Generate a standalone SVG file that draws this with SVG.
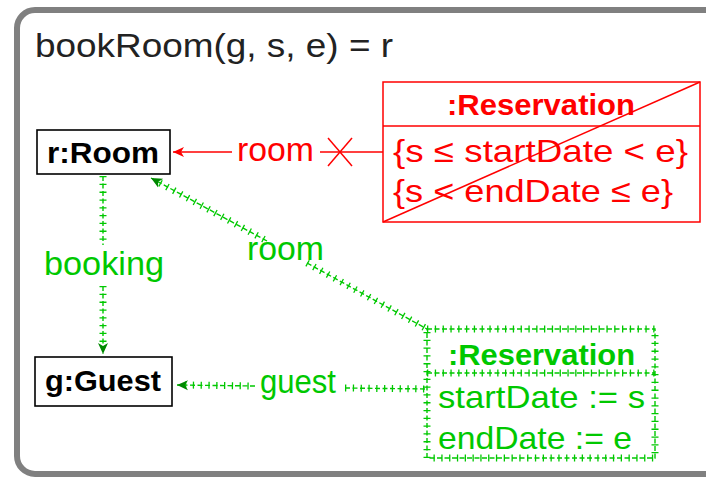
<svg xmlns="http://www.w3.org/2000/svg" width="706" height="479" viewBox="0 0 706 479">
<style>
  text { font-family: "Liberation Sans", Arial, sans-serif; }
  .title { font-size: 34px; fill: #222; }
  .node { font-size: 30px; font-weight: bold; fill: #000; }
  .box { fill: #fff; stroke: #000; stroke-width: 1.6; }
  .red { fill: #ff0000; }
  .green { fill: #00c800; }
  .lbl { font-size: 34px; }
  .hdr { font-size: 29px; font-weight: bold; }
  .attr { font-size: 32px; }
  .rline { stroke: #ff0000; stroke-width: 1.5; fill: none; }
  .gline { stroke: #00c800; stroke-width: 1.4; fill: none; stroke-dasharray: 5 2.5; }
  .gtick { stroke: #00c800; stroke-width: 7; fill: none; stroke-dasharray: 1.3 6.5; }
</style>
<defs>
  <marker id="ar" markerUnits="userSpaceOnUse" markerWidth="14" markerHeight="12" refX="11" refY="6" orient="auto">
    <path d="M0,1 L11,6 L0,11 L3,6 z" fill="#ff0000"/>
  </marker>
  <marker id="ag" markerUnits="userSpaceOnUse" markerWidth="14" markerHeight="12" refX="11" refY="6" orient="auto">
    <path d="M0,1 L11,6 L0,11 L3,6 z" fill="#008800"/>
  </marker>
</defs>

<rect x="17" y="10" width="720" height="464" rx="18" fill="#fff" stroke="#808080" stroke-width="6"/>
<text class="title" x="35" y="57" textLength="358" lengthAdjust="spacingAndGlyphs">bookRoom(g, s, e) = r</text>

<g id="connectors">
  <!-- red room -->
  <line class="rline" x1="232" y1="152" x2="173" y2="152" marker-end="url(#ar)"/>
  <line class="rline" x1="320" y1="152" x2="383" y2="152"/>
  <line class="rline" x1="328" y1="138" x2="352" y2="166"/>
  <line class="rline" x1="328" y1="166" x2="352" y2="138"/>
  <text class="red lbl" x="237" y="161" textLength="77" lengthAdjust="spacingAndGlyphs">room</text>

  <!-- booking -->
  <g>
    <line class="gtick" x1="103" y1="176" x2="103" y2="245"/>
    <line class="gline" x1="103" y1="176" x2="103" y2="245"/>
    <line class="gtick" x1="103" y1="286" x2="103" y2="346"/>
    <line class="gline" x1="103" y1="286" x2="103" y2="354" marker-end="url(#ag)"/>
    <text class="green lbl" x="44" y="275" textLength="120" lengthAdjust="spacingAndGlyphs">booking</text>
  </g>

  <!-- green room -->
  <g>
    <line class="gtick" x1="160" y1="183" x2="267" y2="241"/>
    <line class="gline" x1="267" y1="241" x2="151" y2="178" marker-end="url(#ag)"/>
    <line class="gtick" x1="307" y1="263" x2="427" y2="329"/>
    <line class="gline" x1="307" y1="263" x2="427" y2="329"/>
    <text class="green lbl" x="247" y="260" textLength="77" lengthAdjust="spacingAndGlyphs">room</text>
  </g>

  <!-- guest -->
  <g>
    <line class="gtick" x1="185" y1="385" x2="255" y2="386"/>
    <line class="gline" x1="255" y1="386" x2="177" y2="385" marker-end="url(#ag)"/>
    <line class="gtick" x1="345" y1="388" x2="427" y2="389"/>
    <line class="gline" x1="345" y1="388" x2="427" y2="389"/>
    <text class="green lbl" x="260" y="393" textLength="76" lengthAdjust="spacingAndGlyphs">guest</text>
  </g>
</g>

<g id="room">
  <rect class="box" x="37" y="130" width="133" height="44"/>
  <text class="node" x="47" y="163" textLength="112" lengthAdjust="spacingAndGlyphs">r:Room</text>
</g>

<g id="guest">
  <rect class="box" x="35" y="357" width="137" height="49"/>
  <text class="node" x="45" y="391" textLength="116" lengthAdjust="spacingAndGlyphs">g:Guest</text>
</g>

<g id="reservation-deleted">
  <rect x="383" y="82" width="317" height="140" fill="#fff" stroke="#ff0000" stroke-width="1.5"/>
  <line class="rline" x1="383" y1="126" x2="700" y2="126"/>
  <text class="red hdr" x="447" y="115" textLength="188" lengthAdjust="spacingAndGlyphs">:Reservation</text>
  <text class="red attr" x="393" y="162" textLength="295" lengthAdjust="spacingAndGlyphs">{s ≤ startDate &lt; e}</text>
  <text class="red attr" x="393" y="202" textLength="280" lengthAdjust="spacingAndGlyphs">{s &lt; endDate ≤ e}</text>
  <line class="rline" x1="383" y1="222" x2="700" y2="82"/>
</g>

<g id="reservation-created">
  <rect x="427" y="329" width="228" height="129" fill="#fff" stroke="none"/>
  <rect class="gtick" x="427" y="329" width="228" height="129"/>
  <rect class="gline" x="427" y="329" width="228" height="129"/>
  <line class="gtick" x1="427" y1="373" x2="655" y2="373"/>
  <line class="gline" x1="427" y1="373" x2="655" y2="373"/>
  <text class="green hdr" x="448" y="365" textLength="187" lengthAdjust="spacingAndGlyphs">:Reservation</text>
  <text class="green attr" x="438" y="408" textLength="207" lengthAdjust="spacingAndGlyphs">startDate := s</text>
  <text class="green attr" x="438" y="449" textLength="194" lengthAdjust="spacingAndGlyphs">endDate := e</text>
</g>
</svg>
